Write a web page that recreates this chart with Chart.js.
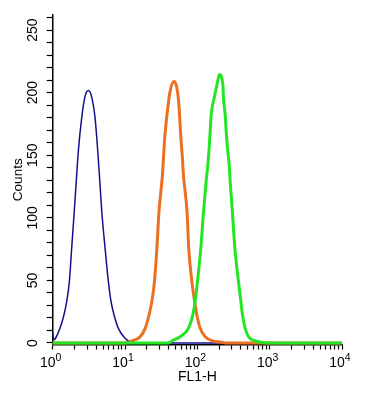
<!DOCTYPE html>
<html>
<head>
<meta charset="utf-8">
<script src="https://cdn.jsdelivr.net/npm/chart.js@4/dist/chart.umd.min.js"></script>
<style>
  body { margin: 0; background: #fff; }
</style>
</head>
<body>
<canvas id="hist" width="385" height="396"></canvas>
<script>
// FL1-H intensity (x) and event counts (y)
const blueX = [1, 1.04, 1.1, 1.26, 1.43, 1.56, 1.70, 1.83, 1.97, 2.10, 2.26, 2.52, 2.80, 3.11, 3.44, 3.85, 4.20, 4.52, 4.77, 5.30, 5.89, 6.41, 7.05, 8.09, 10.0, 11.7, 13, 10000];
const blueY = [8, 2.5, 4, 11.7, 22.4, 33, 49, 75.7, 102, 126, 153, 180, 197, 201.6, 197, 180, 153, 126, 105, 75.7, 49, 33, 22.4, 11.7, 3.7, 1, 0, 0];

const orangeX = [1, 10, 12.4, 16.2, 19.0, 21.5, 23.9, 25.5, 27.6, 29.4, 31.3, 32.9, 34.0, 35.1, 36.7, 39.0, 42.0, 47.8, 53.1, 56.0, 57.8, 59.7, 62.2, 64.2, 67.8, 72.2, 76.0, 84.0, 90.3, 98.5, 109.4, 128.3, 165.5, 207, 260, 10000];
const orangeY = [0, 0, 1.6, 5, 11.7, 22.4, 35.7, 49, 75.7, 104, 121, 134, 147.7, 161, 174, 187.7, 201, 209, 201, 187.7, 174, 161, 147.7, 134, 121, 104, 75.7, 49, 35.7, 22.4, 11.7, 5, 1.6, 0.8, 0, 0];

const greenX = [1, 40, 44.4, 57.8, 75.3, 86.6, 93.2, 100.3, 111.7, 121.4, 132.3, 139.7, 145.6, 150.4, 155.3, 170.9, 186.2, 202.3, 225.4, 229.7, 242.5, 250.4, 261.1, 275.4, 284.4, 303.3, 330.1, 370.7, 400.3, 421.1, 458.7, 509.7, 631, 788, 900, 10000];
const greenY = [0, 0, 1.6, 5, 11.7, 22.4, 33, 49, 75.7, 104, 129, 142.4, 155.7, 169, 182.4, 195.7, 206, 214.4, 206, 195.7, 182.4, 169, 155.7, 142.4, 129, 107, 75.7, 49, 33, 22.4, 11.7, 5, 1.6, 0.5, 0, 0];

// axis ticks
const xDecades = [1, 10, 100, 1000, 10000];
const xExponents = ['0', '1', '2', '3', '4'];
const xMinorTicks = [];
xDecades.slice(0, 4).forEach(d => { for (let m = 1; m < 10; m++) xMinorTicks.push(d * m); });
xMinorTicks.push(10000);
const yTicks = [0, 10, 20, 30, 40, 50, 60, 70, 80, 90, 100, 110, 120, 130, 140, 150, 160, 170, 180, 190, 200, 210, 220, 230, 240, 250, 260];
const yLabelStep = 50;

const FONT = '"Liberation Sans", Arial, sans-serif';

function pts(xs, ys) {
  return xs.map((x, i) => ({ x: x, y: ys[i] }));
}

// draws the 10^n labels with a raised exponent
const decadeLabels = {
  id: 'decadeLabels',
  afterDraw(chart) {
    const ctx = chart.ctx;
    const x = chart.scales.x;
    const bottom = chart.chartArea.bottom;
    ctx.save();
    ctx.fillStyle = '#000';
    ctx.textBaseline = 'alphabetic';
    ctx.textAlign = 'left';
    xDecades.forEach((v, i) => {
      const px = x.getPixelForValue(v);
      ctx.font = '14px ' + FONT;
      const w1 = ctx.measureText('10').width;
      ctx.font = '10.5px ' + FONT;
      const w2 = ctx.measureText(xExponents[i]).width;
      const start = px - (w1 + w2) / 2 - 2;
      ctx.font = '14px ' + FONT;
      ctx.fillText('10', start, bottom + 22);
      ctx.font = '10.5px ' + FONT;
      ctx.fillText(xExponents[i], start + w1, bottom + 16.5);
    });
    ctx.restore();
  }
};

new Chart(document.getElementById('hist'), {
  type: 'line',
  data: {
    datasets: [{
        label: 'isotype',
        data: pts(blueX, blueY),
        borderColor: '#10108f',
        borderWidth: 1.5,
        order: 3
      }, {
        label: 'sample 1',
        data: pts(orangeX, orangeY),
        borderColor: '#ec7022',
        borderWidth: 3,
        order: 2
      }, {
        label: 'sample 2',
        data: pts(greenX, greenY),
        borderColor: '#22e622',
        borderWidth: 3,
        order: 1
      }
    ]
  },
  options: {
    responsive: false,
    animation: false,
    devicePixelRatio: 1,
    datasets: {
      line: { pointRadius: 0, fill: false, cubicInterpolationMode: 'monotone', clip: 6 }
    },
    layout: { padding: { left: 0, right: 43, top: 15, bottom: 0 } },
    plugins: {
      legend: { display: false },
      tooltip: { enabled: false }
    },
    scales: {
      x: {
        type: 'logarithmic',
        min: 1,
        max: 10000,
        afterBuildTicks: s => { s.ticks = xMinorTicks.map(v => ({ value: v })); },
        afterFit: s => { s.height = 51.5; },
        grid: { drawOnChartArea: false, drawTicks: true, tickLength: 5, tickColor: '#000', tickWidth: 1.2 },
        border: { color: '#000', width: 1.5 },
        ticks: { display: false, autoSkip: false },
        title: {
          display: true,
          text: 'FL1-H',
          color: '#000',
          font: { family: FONT, size: 14 },
          padding: { top: 0, bottom: 10 }
        }
      },
      y: {
        min: -1.2,
        max: 262,
        afterBuildTicks: s => { s.ticks = yTicks.map(v => ({ value: v })); },
        afterFit: s => { s.width = 52.7; },
        grid: { drawOnChartArea: false, drawTicks: true, tickLength: 6, tickColor: '#000', tickWidth: 1.2 },
        border: { color: '#000', width: 1.5 },
        ticks: {
          autoSkip: false,
          minRotation: 90,
          maxRotation: 90,
          crossAlign: 'center',
          padding: 2,
          color: '#000',
          font: { family: FONT, size: 14 },
          callback: v => (v % yLabelStep === 0 ? String(v) : '')
        },
        title: {
          display: true,
          text: 'Counts',
          color: '#000',
          font: { family: FONT, size: 13.5 },
          padding: { top: 10, bottom: 0 }
        }
      }
    }
  },
  plugins: [decadeLabels]
});
</script>
</body>
</html>
